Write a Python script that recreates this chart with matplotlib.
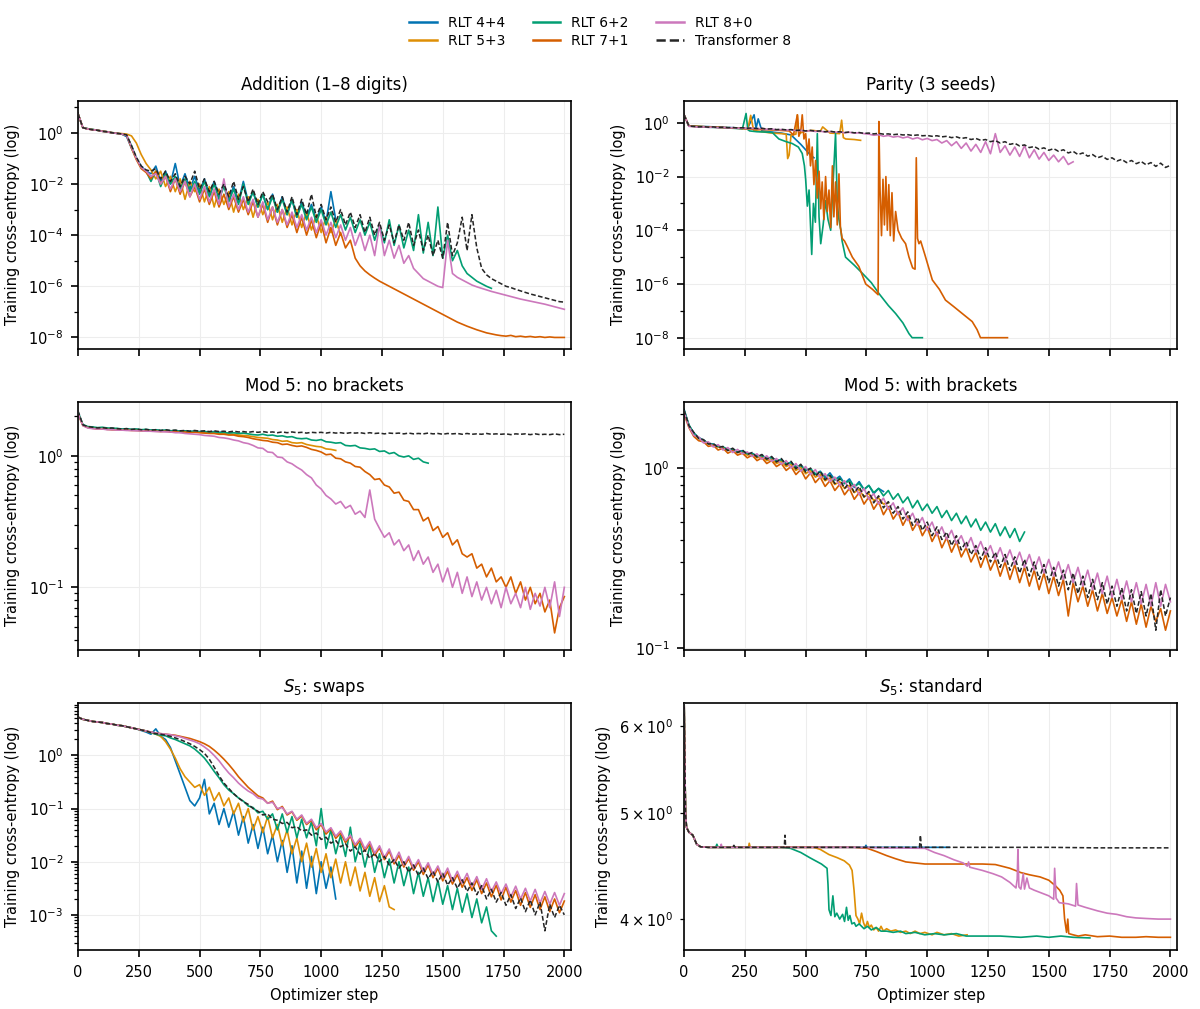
import numpy as np
import matplotlib.pyplot as plt
import matplotlib.ticker as mticker
from matplotlib.lines import Line2D

# optimizer steps for the regularly logged curves (every 20 steps)
steps = np.arange(0, 2001, 20)

labels = ["RLT 4+4", "RLT 5+3", "RLT 6+2", "RLT 7+1", "RLT 8+0", "Transformer 8"]
keys = ["44", "53", "62", "71", "80", "tf"]

# ---- Addition (1-8 digits): log10 of the loss, one value per 20 steps
add_44 = [0.75, 0.2, 0.16, 0.13, 0.1, 0.07, 0.04, 0.01, -0.02, -0.05,
          -0.15, -0.6, -1.0, -1.3, -1.5, -1.6, -1.3, -1.9, -1.5, -2.0,
          -1.2, -2.1, -1.6, -2.2, -1.7, -2.3, -1.8, -2.4, -1.9, -2.5,
          -2.0, -2.6, -2.1, -2.7, -1.9, -2.7, -2.3, -2.9, -2.4, -3.0,
          -2.4, -3.1, -2.5, -3.2, -2.6, -3.3, -2.7, -3.3, -2.8, -3.4,
          -2.9, -3.5, -2.3, -3.4]
add_53 = [0.75, 0.2, 0.16, 0.13, 0.1, 0.07, 0.04, 0.01, -0.02, -0.03,
          -0.05, -0.12, -0.4, -0.85, -1.2, -1.45, -1.8, -1.5, -2.1, -1.7,
          -2.3, -1.8, -2.6, -1.9, -2.3, -2.0, -2.7, -2.1, -2.9, -2.2,
          -2.8, -2.3, -3.1, -2.4, -3.0, -2.5, -3.3, -2.6, -3.2, -2.7,
          -3.4, -2.8, -3.5, -2.9, -3.6, -3.0, -3.7, -3.1, -3.8, -3.2,
          -3.9, -3.3, -3.9, -3.4, -4.0]
add_62 = [0.75, 0.2, 0.16, 0.13, 0.1, 0.06, 0.04, 0.0, -0.02, -0.05,
          -0.1, -0.5, -1.0, -1.35, -1.5, -1.9, -1.5, -2.1, -1.6, -2.0,
          -1.7, -2.2, -1.8, -2.3, -1.9, -2.4, -1.9, -2.5, -2.0, -2.6,
          -2.1, -2.7, -2.2, -2.8, -2.0, -2.8, -2.3, -2.9, -2.4, -3.0,
          -2.5, -3.1, -2.6, -3.2, -2.6, -3.3, -2.8, -3.4, -2.9, -3.5,
          -3.0, -3.6, -3.1, -3.7, -3.2, -3.8, -3.3, -3.9, -3.4, -4.0,
          -3.5, -4.2, -3.6, -4.3, -3.4, -4.4, -3.6, -4.5, -3.8, -4.6,
          -3.2, -4.7, -3.5, -4.8, -2.9, -4.9, -4.0, -5.0, -4.6, -5.2,
          -5.5, -5.65, -5.8, -5.9, -6.0, -6.08]
add_71 = [0.75, 0.2, 0.15, 0.12, 0.1, 0.06, 0.04, 0.0, -0.02, -0.05,
          -0.1, -0.6, -1.05, -1.4, -1.55, -1.8, -1.5, -2.0, -1.7, -2.3,
          -1.8, -2.4, -1.9, -2.5, -2.1, -2.7, -2.2, -2.8, -2.3, -2.9,
          -2.4, -3.0, -2.5, -3.1, -2.6, -3.2, -2.7, -3.3, -2.8, -3.5,
          -2.9, -3.6, -3.0, -3.7, -3.2, -3.9, -3.3, -4.0, -3.4, -4.1,
          -3.5, -4.3, -3.7, -4.4, -3.9, -4.5, -4.2, -4.9, -5.2, -5.4,
          -5.55, -5.68, -5.8, -5.9, -6.0, -6.1, -6.2, -6.3, -6.4, -6.5,
          -6.6, -6.7, -6.8, -6.9, -7.0, -7.1, -7.2, -7.3, -7.4, -7.48,
          -7.56, -7.63, -7.7, -7.76, -7.82, -7.86, -7.9, -7.93, -7.95, -7.92,
          -7.97, -7.95, -7.98, -7.96, -7.99, -7.97, -8.0, -7.98, -8.0, -8.0,
          -8.0]
add_80 = [0.75, 0.2, 0.15, 0.12, 0.1, 0.06, 0.04, 0.0, -0.02, -0.05,
          -0.1, -0.55, -1.0, -1.35, -1.5, -1.7, -1.6, -2.0, -1.7, -2.2,
          -1.8, -2.3, -1.9, -2.5, -2.0, -2.6, -2.1, -2.7, -2.2, -2.8,
          -1.8, -2.9, -2.4, -3.0, -2.5, -3.1, -2.6, -3.3, -2.7, -3.4,
          -2.9, -3.5, -3.0, -3.6, -3.1, -3.7, -3.2, -3.8, -3.3, -3.9,
          -3.4, -4.0, -3.5, -4.1, -3.6, -4.2, -3.7, -4.4, -3.9, -4.6,
          -4.0, -4.8, -3.6, -4.8, -4.2, -4.9, -4.4, -5.1, -4.8, -5.3,
          -5.5, -5.7, -5.8, -5.9, -6.0, -6.05, -4.2, -5.5, -5.65, -5.75,
          -5.85, -5.95, -6.02, -6.08, -6.14, -6.2, -6.25, -6.3, -6.35, -6.4,
          -6.45, -6.5, -6.54, -6.58, -6.62, -6.66, -6.7, -6.75, -6.8, -6.85,
          -6.9]
add_tf = [0.75, 0.2, 0.15, 0.12, 0.1, 0.06, 0.04, 0.0, -0.02, -0.04,
          -0.08, -0.5, -0.95, -1.3, -1.45, -1.5, -1.4, -1.8, -1.5, -1.9,
          -1.6, -2.1, -1.7, -2.0, -1.5, -2.2, -1.8, -2.3, -1.9, -2.4,
          -2.0, -2.5, -1.9, -2.6, -2.1, -2.7, -2.2, -2.8, -2.3, -2.7,
          -2.4, -3.0, -2.5, -3.1, -2.5, -3.2, -2.6, -3.2, -2.4, -3.3,
          -2.8, -3.4, -2.9, -3.5, -3.0, -3.6, -3.1, -3.7, -3.2, -3.9,
          -3.3, -4.0, -3.5, -4.2, -3.6, -4.3, -3.6, -4.2, -3.5, -4.4,
          -3.8, -4.6, -4.0, -4.8, -4.2, -4.9, -3.5, -4.8, -4.3, -3.3,
          -4.6, -3.2, -4.5, -5.3, -5.55, -5.7, -5.8, -5.9, -6.0, -6.05,
          -6.12, -6.18, -6.24, -6.3, -6.35, -6.4, -6.45, -6.5, -6.55, -6.6,
          -6.62]

# ---- Parity (3 seeds): (step, log10 loss) pairs, read at irregular steps
par_44 = [(0, 0.3), (20, -0.12), (100, -0.14), (200, -0.18), (260, -0.22), (288, 0.3),
          (296, -0.2), (305, 0.15), (320, -0.3), (360, -0.34), (400, -0.38), (440, -0.45),
          (480, -0.8), (500, -1.0), (520, -1.2), (534, -1.3)]
par_53 = [(0, 0.3), (20, -0.12), (100, -0.15), (200, -0.19), (262, -0.22), (274, 0.28),
          (286, -0.28), (320, -0.33), (360, -0.38), (400, -0.4), (420, -0.42), (426, -1.33),
          (432, -1.2), (440, -0.45), (460, -0.42), (466, 0.3), (472, -0.4), (500, -0.3),
          (530, -0.28), (560, -0.32), (570, -0.15), (600, -0.38), (640, -0.4), (648, 0.1),
          (655, -0.55), (665, -0.6), (700, -0.62), (726, -0.65)]
par_62 = [(0, 0.3), (20, -0.12), (60, -0.14), (100, -0.16), (150, -0.18), (200, -0.2),
          (240, -0.22), (255, 0.35), (262, -0.25), (270, -0.3), (300, -0.33), (330, -0.34),
          (363, -0.36), (390, -0.6), (420, -0.7), (445, -0.77), (470, -0.9), (486, -1.14),
          (495, -1.6), (500, -2.1), (507, -3.1), (514, -2.5), (525, -4.9), (532, -3.0),
          (540, -3.7), (548, -0.4), (555, -3.5), (562, -4.5), (572, -3.8), (582, -2.9),
          (592, -3.6), (603, -4.0), (613, -2.2), (623, -0.4), (630, -3.0), (637, -3.6),
          (645, -4.0), (650, -4.4), (664, -5.0), (700, -5.3), (733, -5.6), (770, -5.95),
          (801, -6.35), (840, -6.8), (870, -7.1), (900, -7.45), (925, -7.85), (938, -8.0),
          (980, -8.0)]
par_71 = [(0, 0.3), (20, -0.12), (100, -0.15), (200, -0.19), (300, -0.24), (380, -0.27),
          (432, -0.3), (450, -0.45), (466, 0.3), (472, -0.5), (480, -0.3), (486, 0.3),
          (493, -0.6), (500, -0.4), (507, -1.2), (514, -0.6), (520, -1.6), (527, -0.9),
          (534, -2.3), (541, -1.4), (548, -2.8), (555, -1.8), (562, -3.2), (568, -2.2),
          (575, -3.6), (582, -2.0), (589, -3.3), (596, -2.5), (603, -3.9), (610, -1.6),
          (616, -3.5), (623, -2.2), (630, -3.8), (637, -1.9), (643, -3.9), (650, -4.3),
          (660, -4.4), (671, -4.6), (692, -5.0), (719, -5.35), (747, -6.0), (775, -6.2),
          (798, -6.4), (801, 0.05), (806, -2.5), (812, -4.2), (818, -2.1), (824, -3.8),
          (830, -2.0), (836, -4.0), (842, -2.3), (848, -4.2), (855, -2.6), (862, -4.4),
          (870, -3.3), (880, -4.0), (895, -4.3), (911, -4.5), (925, -5.0), (940, -5.4),
          (950, -5.45), (955, -1.3), (960, -4.3), (966, -4.5), (973, -4.4), (990, -4.9),
          (1021, -5.85), (1050, -6.2), (1075, -6.6), (1110, -6.85), (1144, -7.1),
          (1185, -7.4), (1205, -7.7), (1219, -8.0), (1330, -8.0)]
par_80 = [0.3, -0.13, -0.14, -0.16, -0.15, -0.17, -0.16, -0.18, -0.17, -0.19,
          -0.18, -0.2, -0.19, -0.21, -0.2, -0.22, -0.21, -0.24, -0.23, -0.26,
          -0.25, -0.27, -0.26, -0.29, -0.28, -0.31, -0.29, -0.32, -0.31, -0.34,
          -0.32, -0.35, -0.34, -0.37, -0.35, -0.38, -0.37, -0.4, -0.42, -0.46,
          -0.44, -0.5, -0.47, -0.53, -0.5, -0.56, -0.52, -0.6, -0.55, -0.63,
          -0.58, -0.66, -0.62, -0.75, -0.66, -0.85, -0.7, -0.95, -0.75, -1.05,
          -0.8, -1.1, -0.7, -1.15, -0.4, -1.1, -0.85, -1.2, -0.9, -1.25,
          -0.85, -1.3, -1.0, -1.35, -1.1, -1.4, -1.2, -1.45, -1.25, -1.55,
          -1.45]
par_tf = [0.3, -0.12, -0.13, -0.15, -0.14, -0.16, -0.15, -0.17, -0.16, -0.18,
          -0.17, -0.19, -0.18, -0.2, -0.19, -0.21, -0.2, -0.23, -0.22, -0.25,
          -0.24, -0.26, -0.25, -0.28, -0.27, -0.3, -0.28, -0.31, -0.3, -0.33,
          -0.31, -0.34, -0.33, -0.36, -0.34, -0.37, -0.36, -0.39, -0.38, -0.41,
          -0.39, -0.42, -0.41, -0.44, -0.42, -0.45, -0.44, -0.47, -0.45, -0.48,
          -0.47, -0.5, -0.48, -0.52, -0.5, -0.55, -0.52, -0.58, -0.55, -0.62,
          -0.58, -0.65, -0.62, -0.7, -0.66, -0.75, -0.7, -0.8, -0.76, -0.86,
          -0.82, -0.92, -0.88, -0.98, -0.93, -1.02, -0.96, -1.06, -1.0, -1.12,
          -1.06, -1.18, -1.12, -1.24, -1.18, -1.3, -1.24, -1.36, -1.3, -1.42,
          -1.36, -1.48, -1.4, -1.52, -1.44, -1.56, -1.48, -1.62, -1.5, -1.66,
          -1.58]

# ---- Mod 5: no brackets, loss per 20 steps
nb_44 = [2.15, 1.72, 1.66, 1.64, 1.62, 1.63, 1.61, 1.61, 1.6, 1.59,
         1.6, 1.58, 1.59, 1.57, 1.58, 1.56, 1.57, 1.55, 1.56, 1.55,
         1.55, 1.54, 1.55, 1.53, 1.54, 1.53, 1.53, 1.52, 1.53, 1.51,
         1.52]
nb_53 = [2.1, 1.71, 1.65, 1.63, 1.61, 1.61, 1.6, 1.59, 1.59, 1.58,
         1.58, 1.57, 1.57, 1.56, 1.56, 1.55, 1.55, 1.54, 1.55, 1.53,
         1.54, 1.52, 1.53, 1.51, 1.52, 1.51, 1.5, 1.5, 1.49, 1.48,
         1.48, 1.46, 1.46, 1.44, 1.43, 1.42, 1.4, 1.38, 1.37, 1.36,
         1.33, 1.32, 1.29, 1.3, 1.26, 1.25, 1.26, 1.22, 1.2, 1.18,
         1.17, 1.13, 1.12, 1.1]
nb_62 = [2.15, 1.73, 1.67, 1.66, 1.64, 1.65, 1.63, 1.62, 1.62, 1.6,
         1.61, 1.59, 1.6, 1.58, 1.59, 1.57, 1.58, 1.56, 1.57, 1.55,
         1.56, 1.54, 1.55, 1.53, 1.54, 1.52, 1.53, 1.51, 1.52, 1.5,
         1.51, 1.49, 1.5, 1.48, 1.49, 1.47, 1.45, 1.44, 1.46, 1.43,
         1.44, 1.41, 1.42, 1.39, 1.4, 1.36, 1.35, 1.36, 1.32, 1.31,
         1.33, 1.28, 1.27, 1.25, 1.26, 1.2, 1.19, 1.2, 1.15, 1.14,
         1.12, 1.13, 1.08, 1.09, 1.04, 1.06, 1.0, 0.98, 1.0, 0.94,
         0.96, 0.9, 0.88]
nb_71 = [2.1, 1.7, 1.64, 1.62, 1.6, 1.61, 1.59, 1.58, 1.58, 1.57,
         1.57, 1.56, 1.56, 1.55, 1.55, 1.54, 1.54, 1.53, 1.54, 1.52,
         1.53, 1.51, 1.52, 1.5, 1.51, 1.5, 1.49, 1.48, 1.48, 1.46,
         1.46, 1.44, 1.44, 1.41, 1.4, 1.38, 1.35, 1.33, 1.31, 1.3,
         1.27, 1.26, 1.22, 1.23, 1.2, 1.18, 1.19, 1.16, 1.12, 1.1,
         1.07, 1.02, 1.03, 0.96, 0.95, 0.9, 0.88, 0.83, 0.82, 0.76,
         0.72, 0.66, 0.67, 0.6, 0.58, 0.52, 0.53, 0.46, 0.45, 0.39,
         0.39, 0.32, 0.34, 0.27, 0.29, 0.24, 0.26, 0.21, 0.23, 0.18,
         0.17, 0.18, 0.14, 0.15, 0.12, 0.14, 0.11, 0.12, 0.1, 0.12,
         0.09, 0.11, 0.08, 0.1, 0.075, 0.09, 0.065, 0.08, 0.045, 0.07,
         0.085]
nb_80 = [2.1, 1.7, 1.63, 1.61, 1.6, 1.6, 1.58, 1.58, 1.57, 1.57,
         1.56, 1.56, 1.55, 1.55, 1.54, 1.54, 1.53, 1.53, 1.52, 1.52,
         1.5, 1.5, 1.48, 1.47, 1.46, 1.45, 1.43, 1.42, 1.41, 1.38,
         1.37, 1.35, 1.32, 1.3, 1.26, 1.24, 1.2, 1.15, 1.14, 1.07,
         1.06, 0.98, 0.97, 0.9, 0.87, 0.82, 0.78, 0.72, 0.68, 0.6,
         0.56, 0.5, 0.47, 0.43, 0.45, 0.4, 0.42, 0.36, 0.38, 0.34,
         0.55, 0.33, 0.28, 0.24, 0.26, 0.21, 0.23, 0.19, 0.21, 0.16,
         0.19, 0.15, 0.17, 0.13, 0.15, 0.11, 0.14, 0.1, 0.13, 0.09,
         0.12, 0.085, 0.11, 0.08, 0.1, 0.075, 0.095, 0.07, 0.1, 0.075,
         0.09, 0.07, 0.1, 0.068, 0.09, 0.072, 0.1, 0.07, 0.11, 0.06,
         0.1]
nb_tf = [2.2, 1.72, 1.67, 1.65, 1.63, 1.64, 1.62, 1.63, 1.61, 1.6,
         1.61, 1.59, 1.6, 1.58, 1.59, 1.57, 1.58, 1.56, 1.58, 1.56,
         1.57, 1.55, 1.56, 1.54, 1.56, 1.54, 1.55, 1.53, 1.55, 1.53,
         1.54, 1.52, 1.54, 1.52, 1.53, 1.51, 1.53, 1.51, 1.53, 1.51,
         1.52, 1.5, 1.52, 1.5, 1.52, 1.5, 1.51, 1.49, 1.51, 1.5,
         1.51, 1.49, 1.51, 1.49, 1.5, 1.48, 1.5, 1.49, 1.5, 1.48,
         1.5, 1.48, 1.49, 1.47, 1.49, 1.48, 1.49, 1.47, 1.49, 1.47,
         1.48, 1.47, 1.49, 1.47, 1.48, 1.46, 1.48, 1.47, 1.48, 1.46,
         1.48, 1.46, 1.47, 1.46, 1.48, 1.46, 1.47, 1.46, 1.47, 1.45,
         1.47, 1.46, 1.47, 1.45, 1.47, 1.45, 1.46, 1.45, 1.47, 1.45,
         1.46]

# ---- Mod 5: with brackets, loss per 20 steps
wb_44 = [2.12, 1.73, 1.57, 1.48, 1.43, 1.37, 1.36, 1.31, 1.31, 1.26,
         1.28, 1.23, 1.25, 1.2, 1.21, 1.16, 1.18, 1.13, 1.15, 1.09,
         1.12, 1.05, 1.08, 1.0, 1.04, 0.97, 0.99, 0.92, 0.96, 0.88,
         0.94, 0.86, 0.9, 0.82, 0.87, 0.78, 0.84, 0.76, 0.8, 0.72,
         0.77, 0.74]
wb_53 = [2.08, 1.71, 1.55, 1.47, 1.41, 1.37, 1.34, 1.31, 1.29, 1.26,
         1.26, 1.22, 1.22, 1.18, 1.19, 1.14, 1.16, 1.1, 1.12, 1.06,
         1.09, 1.02, 1.05, 0.97, 1.01, 0.93, 0.97, 0.89, 0.92, 0.85,
         0.88, 0.81, 0.84, 0.77, 0.8, 0.73, 0.76, 0.69, 0.72, 0.66,
         0.68, 0.63, 0.64]
wb_62 = [2.1, 1.74, 1.56, 1.47, 1.42, 1.38, 1.35, 1.32, 1.31, 1.27,
         1.27, 1.23, 1.24, 1.2, 1.2, 1.17, 1.17, 1.13, 1.14, 1.1,
         1.11, 1.06, 1.07, 1.02, 1.03, 0.98, 0.99, 0.93, 0.95, 0.9,
         0.91, 0.86, 0.88, 0.82, 0.85, 0.79, 0.82, 0.76, 0.8, 0.73,
         0.77, 0.7, 0.75, 0.67, 0.72, 0.64, 0.69, 0.6, 0.66, 0.58,
         0.63, 0.56, 0.61, 0.53, 0.58, 0.51, 0.56, 0.49, 0.54, 0.47,
         0.52, 0.45, 0.5, 0.44, 0.49, 0.42, 0.47, 0.41, 0.46, 0.39,
         0.44]
wb_71 = [2.0, 1.68, 1.5, 1.42, 1.4, 1.32, 1.34, 1.26, 1.29, 1.21,
         1.25, 1.18, 1.21, 1.14, 1.18, 1.1, 1.14, 1.06, 1.1, 1.02,
         1.06, 0.97, 1.02, 0.92, 0.98, 0.87, 0.94, 0.83, 0.89, 0.79,
         0.85, 0.75, 0.81, 0.71, 0.77, 0.67, 0.73, 0.63, 0.69, 0.59,
         0.65, 0.55, 0.61, 0.52, 0.57, 0.48, 0.54, 0.45, 0.5, 0.42,
         0.47, 0.39, 0.44, 0.36, 0.41, 0.34, 0.39, 0.32, 0.36, 0.3,
         0.34, 0.28, 0.33, 0.27, 0.31, 0.25, 0.3, 0.24, 0.29, 0.23,
         0.28, 0.22, 0.27, 0.21, 0.26, 0.2, 0.25, 0.195, 0.24, 0.15,
         0.23, 0.18, 0.22, 0.17, 0.21, 0.16, 0.2, 0.155, 0.19, 0.15,
         0.185, 0.14, 0.18, 0.135, 0.175, 0.13, 0.17, 0.14, 0.165, 0.125,
         0.16]
wb_80 = [2.05, 1.7, 1.52, 1.49, 1.38, 1.4, 1.31, 1.35, 1.26, 1.3,
         1.22, 1.27, 1.2, 1.23, 1.16, 1.2, 1.12, 1.17, 1.09, 1.13,
         1.05, 1.1, 1.0, 1.06, 0.96, 1.02, 0.92, 0.98, 0.88, 0.93,
         0.84, 0.89, 0.8, 0.85, 0.76, 0.81, 0.71, 0.77, 0.67, 0.72,
         0.63, 0.68, 0.59, 0.64, 0.55, 0.6, 0.51, 0.56, 0.48, 0.53,
         0.45, 0.5, 0.42, 0.47, 0.4, 0.45, 0.38, 0.42, 0.36, 0.41,
         0.34, 0.39, 0.33, 0.37, 0.31, 0.36, 0.3, 0.35, 0.29, 0.34,
         0.28, 0.33, 0.27, 0.32, 0.26, 0.31, 0.25, 0.3, 0.24, 0.29,
         0.23, 0.28, 0.22, 0.27, 0.21, 0.26, 0.2, 0.25, 0.19, 0.24,
         0.185, 0.235, 0.18, 0.23, 0.175, 0.225, 0.17, 0.23, 0.17, 0.225,
         0.18]
wb_tf = [2.1, 1.72, 1.58, 1.46, 1.44, 1.36, 1.37, 1.3, 1.32, 1.25,
         1.29, 1.22, 1.26, 1.19, 1.22, 1.15, 1.19, 1.12, 1.16, 1.08,
         1.13, 1.04, 1.09, 0.99, 1.05, 0.95, 1.0, 0.9, 0.96, 0.86,
         0.91, 0.82, 0.87, 0.77, 0.83, 0.73, 0.79, 0.69, 0.74, 0.64,
         0.7, 0.6, 0.65, 0.56, 0.61, 0.52, 0.57, 0.48, 0.53, 0.45,
         0.5, 0.42, 0.47, 0.4, 0.44, 0.37, 0.42, 0.35, 0.39, 0.33,
         0.37, 0.31, 0.36, 0.3, 0.34, 0.28, 0.33, 0.27, 0.32, 0.26,
         0.31, 0.25, 0.3, 0.24, 0.29, 0.23, 0.28, 0.22, 0.27, 0.21,
         0.26, 0.2, 0.25, 0.19, 0.24, 0.185, 0.23, 0.175, 0.22, 0.17,
         0.215, 0.16, 0.21, 0.155, 0.205, 0.15, 0.2, 0.125, 0.21, 0.15,
         0.19]

# ---- S5: swaps, log10 of the loss per 20 steps
sw_44 = [0.72, 0.68, 0.66, 0.64, 0.63, 0.62, 0.6, 0.59, 0.57, 0.56,
         0.54, 0.52, 0.5, 0.47, 0.44, 0.4, 0.5, 0.36, 0.3, 0.15,
         -0.1, -0.35, -0.6, -0.85, -0.95, -0.8, -0.45, -1.1, -0.9, -1.3,
         -1.0, -1.35, -1.05, -1.5, -1.15, -1.65, -1.3, -1.75, -1.35, -1.85,
         -1.5, -2.0, -1.6, -2.2, -1.7, -2.4, -1.8, -2.5, -1.9, -2.6,
         -2.0, -2.5, -2.1, -2.7]
sw_53 = [0.72, 0.68, 0.66, 0.64, 0.63, 0.62, 0.6, 0.59, 0.57, 0.56,
         0.54, 0.52, 0.5, 0.48, 0.46, 0.43, 0.4, 0.36, 0.26, 0.12,
         -0.05, -0.25, -0.4, -0.5, -0.6, -0.55, -0.75, -0.6, -0.85, -0.7,
         -0.95, -0.8, -1.1, -0.9, -1.25, -1.0, -1.4, -1.15, -1.45, -1.15,
         -1.55, -1.3, -1.7, -1.4, -1.85, -1.55, -2.0, -1.65, -2.1, -1.75,
         -2.2, -1.85, -2.3, -1.95, -2.4, -2.0, -2.45, -2.1, -2.55, -2.2,
         -2.65, -2.3, -2.75, -2.45, -2.85, -2.9]
sw_62 = [0.72, 0.68, 0.66, 0.64, 0.63, 0.62, 0.6, 0.59, 0.57, 0.56,
         0.54, 0.52, 0.5, 0.48, 0.46, 0.43, 0.4, 0.38, 0.37, 0.33,
         0.3, 0.26, 0.22, 0.18, 0.12, 0.04, -0.05, -0.17, -0.3, -0.42,
         -0.55, -0.65, -0.72, -0.8, -0.86, -0.95, -0.98, -1.08, -1.05, -1.2,
         -1.1, -1.4, -1.1, -1.45, -1.15, -1.55, -1.2, -1.55, -1.25, -1.7,
         -1.0, -1.75, -1.4, -1.85, -1.5, -1.9, -1.35, -2.0, -1.65, -2.1,
         -1.7, -2.2, -1.85, -2.3, -1.95, -2.4, -2.0, -2.45, -2.1, -2.6,
         -2.2, -2.65, -2.3, -2.75, -2.35, -2.8, -2.45, -2.9, -2.5, -2.95,
         -2.6, -3.05, -2.7, -3.15, -2.85, -3.3, -3.4]
sw_71 = [0.72, 0.68, 0.66, 0.64, 0.63, 0.62, 0.6, 0.59, 0.57, 0.56,
         0.54, 0.52, 0.5, 0.48, 0.46, 0.44, 0.42, 0.41, 0.4, 0.39,
         0.38, 0.36, 0.34, 0.32, 0.29, 0.26, 0.22, 0.17, 0.1, 0.02,
         -0.07, -0.17, -0.28, -0.4, -0.5, -0.6, -0.68, -0.76, -0.8, -0.9,
         -0.86, -1.02, -0.96, -1.12, -1.06, -1.22, -1.14, -1.3, -1.22, -1.4,
         -1.3, -1.48, -1.38, -1.56, -1.46, -1.64, -1.52, -1.72, -1.6, -1.8,
         -1.66, -1.88, -1.74, -1.96, -1.8, -2.04, -1.88, -2.1, -1.94, -2.16,
         -2.0, -2.24, -2.06, -2.3, -2.12, -2.36, -2.18, -2.42, -2.24, -2.48,
         -2.3, -2.54, -2.34, -2.6, -2.4, -2.66, -2.44, -2.72, -2.48, -2.76,
         -2.54, -2.82, -2.58, -2.86, -2.62, -2.9, -2.66, -2.94, -2.7, -2.96,
         -2.74]
sw_80 = [0.72, 0.68, 0.66, 0.64, 0.63, 0.62, 0.6, 0.59, 0.57, 0.56,
         0.54, 0.52, 0.5, 0.48, 0.46, 0.44, 0.42, 0.41, 0.4, 0.39,
         0.37, 0.35, 0.32, 0.29, 0.26, 0.22, 0.16, 0.09, 0.0, -0.1,
         -0.22, -0.33, -0.42, -0.52, -0.6, -0.67, -0.72, -0.8, -0.82, -0.9,
         -0.88, -1.0, -0.98, -1.1, -1.05, -1.2, -1.12, -1.28, -1.2, -1.36,
         -1.28, -1.44, -1.36, -1.52, -1.42, -1.6, -1.5, -1.68, -1.56, -1.76,
         -1.62, -1.84, -1.7, -1.92, -1.76, -2.0, -1.82, -2.06, -1.9, -2.12,
         -1.96, -2.18, -2.02, -2.24, -2.08, -2.3, -2.12, -2.36, -2.18, -2.4,
         -2.22, -2.46, -2.28, -2.52, -2.32, -2.56, -2.38, -2.6, -2.42, -2.66,
         -2.46, -2.7, -2.5, -2.74, -2.52, -2.78, -2.56, -2.8, -2.58, -2.82,
         -2.6]
sw_tf = [0.72, 0.68, 0.66, 0.64, 0.63, 0.62, 0.6, 0.59, 0.57, 0.56,
         0.54, 0.52, 0.5, 0.48, 0.46, 0.43, 0.41, 0.4, 0.38, 0.36,
         0.33, 0.3, 0.26, 0.22, 0.17, 0.11, 0.04, -0.07, -0.22, -0.38,
         -0.52, -0.62, -0.72, -0.8, -0.87, -0.92, -1.0, -1.05, -1.12, -1.1,
         -1.2, -1.22, -1.28, -1.26, -1.36, -1.34, -1.42, -1.4, -1.5, -1.46,
         -1.58, -1.54, -1.65, -1.6, -1.72, -1.66, -1.8, -1.72, -1.86, -1.78,
         -1.94, -1.84, -2.0, -1.9, -2.06, -1.96, -2.12, -2.0, -2.2, -2.06,
         -2.26, -2.12, -2.32, -2.18, -2.38, -2.22, -2.44, -2.3, -2.5, -2.34,
         -2.56, -2.4, -2.62, -2.45, -2.7, -2.52, -2.76, -2.58, -2.82, -2.62,
         -2.88, -2.68, -2.94, -2.72, -3.0, -2.76, -3.3, -2.8, -3.05, -2.82,
         -3.0]

# ---- S5: standard, (step, loss) pairs
std_head = [(0, 6.4), (3, 5.6), (6, 5.0), (10, 4.85), (20, 4.8), (36, 4.77), (52, 4.68), (68, 4.655)]
std_44 = std_head + [(100, 4.65), (300, 4.65), (500, 4.65), (744, 4.65), (748, 4.67), (752, 4.65),
                     (900, 4.65), (1090, 4.65)]
std_53 = std_head + [(100, 4.65), (200, 4.65), (265, 4.65), (268, 4.69), (272, 4.65), (400, 4.65),
                     (533, 4.65), (560, 4.63), (596, 4.58), (630, 4.55), (659, 4.52), (680, 4.48),
                     (691, 4.43), (699, 4.25), (707, 4.03), (715, 4.0), (722, 3.96), (730, 4.05),
                     (738, 3.97), (746, 3.93), (754, 3.98), (762, 3.93), (770, 3.95), (780, 3.91),
                     (790, 3.93), (800, 3.9), (810, 3.94), (820, 3.9), (833, 3.92), (850, 3.9),
                     (870, 3.91), (890, 3.89), (912, 3.9), (930, 3.88), (950, 3.9), (970, 3.88),
                     (990, 3.89), (1020, 3.87), (1040, 3.89), (1069, 3.87), (1100, 3.88),
                     (1130, 3.86), (1164, 3.87)]
std_62 = std_head + [(100, 4.65), (130, 4.65), (135, 4.68), (140, 4.65), (200, 4.65), (300, 4.65),
                     (400, 4.65), (438, 4.64), (480, 4.6), (517, 4.55), (565, 4.49), (588, 4.45),
                     (592, 4.3), (596, 4.08), (604, 4.03), (612, 4.2), (620, 4.02), (628, 4.05),
                     (640, 4.0), (652, 4.04), (660, 3.98), (668, 4.1), (675, 3.99), (682, 4.03),
                     (690, 3.96), (700, 3.97), (707, 3.94), (720, 3.96), (740, 3.92), (754, 3.94),
                     (770, 3.91), (790, 3.93), (810, 3.9), (833, 3.9), (860, 3.89), (890, 3.9),
                     (912, 3.88), (950, 3.89), (990, 3.87), (1030, 3.88), (1069, 3.87),
                     (1120, 3.88), (1160, 3.86), (1227, 3.86), (1300, 3.86), (1385, 3.85),
                     (1450, 3.86), (1500, 3.85), (1550, 3.86), (1600, 3.85), (1669, 3.845)]
std_71 = std_head + [(100, 4.65), (300, 4.65), (500, 4.65), (600, 4.65), (700, 4.65), (754, 4.64),
                     (790, 4.61), (833, 4.57), (870, 4.54), (912, 4.51), (950, 4.5), (991, 4.49),
                     (1100, 4.49), (1227, 4.49), (1280, 4.485), (1306, 4.47), (1340, 4.45),
                     (1385, 4.41), (1420, 4.39), (1464, 4.37), (1500, 4.34), (1527, 4.29),
                     (1545, 4.25), (1558, 4.2), (1565, 4.0), (1573, 3.89), (1578, 4.0),
                     (1582, 3.88), (1600, 3.87), (1621, 3.86), (1650, 3.87), (1700, 3.855),
                     (1750, 3.86), (1800, 3.85), (1858, 3.85), (1900, 3.855), (1950, 3.85),
                     (2000, 3.85)]
std_80 = std_head + [(100, 4.65), (150, 4.65), (153, 4.68), (156, 4.65), (400, 4.65), (700, 4.65),
                     (991, 4.64), (1030, 4.6), (1069, 4.57), (1110, 4.53), (1148, 4.5),
                     (1165, 4.47), (1170, 4.51), (1175, 4.46), (1227, 4.43), (1270, 4.4),
                     (1306, 4.37), (1340, 4.32), (1365, 4.27), (1370, 4.35), (1373, 4.63),
                     (1377, 4.28), (1385, 4.26), (1395, 4.4), (1400, 4.26), (1410, 4.36),
                     (1420, 4.27), (1440, 4.25), (1464, 4.23), (1500, 4.2), (1520, 4.17),
                     (1524, 4.45), (1530, 4.18), (1543, 4.14), (1580, 4.13), (1610, 4.11),
                     (1614, 4.31), (1620, 4.12), (1650, 4.1), (1700, 4.07), (1740, 4.05),
                     (1779, 4.04), (1820, 4.02), (1858, 4.01), (1900, 4.005), (1950, 4.0),
                     (2000, 4.0)]
std_tf = std_head + [(100, 4.65), (150, 4.65), (200, 4.65), (205, 4.67), (210, 4.65), (300, 4.65),
                     (412, 4.65), (415, 4.77), (418, 4.65), (500, 4.65), (600, 4.65), (700, 4.65),
                     (800, 4.65), (900, 4.65), (968, 4.65), (972, 4.77), (976, 4.65), (1100, 4.65),
                     (1300, 4.65), (1500, 4.65), (1700, 4.645), (1900, 4.645), (2000, 4.645)]

colors = {"44": "#0173b2", "53": "#de8f05", "62": "#029e73",
          "71": "#d55e00", "80": "#cc78bc", "tf": "#262626"}


def on_grid(vals, log):
    y = np.asarray(vals, dtype=float)
    return steps[:len(y)], (10.0 ** y if log else y)


def from_pairs(pairs, log):
    x, y = np.array(pairs, dtype=float).T
    return x, (10.0 ** y if log else y)


# title, series, values stored as log10?, y limits, major ticks every 2 decades?
panels = [
    ("Addition (1–8 digits)",
     {"44": add_44, "53": add_53, "62": add_62, "71": add_71, "80": add_80, "tf": add_tf},
     True, (10 ** -8.44, 10 ** 1.25), True),
    ("Parity (3 seeds)",
     {"44": par_44, "53": par_53, "62": par_62, "71": par_71, "80": par_80, "tf": par_tf},
     True, (10 ** -8.41, 10 ** 0.82), True),
    ("Mod 5: no brackets",
     {"44": nb_44, "53": nb_53, "62": nb_62, "71": nb_71, "80": nb_80, "tf": nb_tf},
     False, (0.0336, 2.58), False),
    ("Mod 5: with brackets",
     {"44": wb_44, "53": wb_53, "62": wb_62, "71": wb_71, "80": wb_80, "tf": wb_tf},
     False, (0.0975, 2.34), False),
    ("$S_5$: swaps",
     {"44": sw_44, "53": sw_53, "62": sw_62, "71": sw_71, "80": sw_80, "tf": sw_tf},
     True, (10 ** -3.67, 10 ** 0.994), False),
    ("$S_5$: standard",
     {"44": std_44, "53": std_53, "62": std_62, "71": std_71, "80": std_80, "tf": std_tf},
     False, (3.745, 6.30), False),
]

fig, axes = plt.subplots(3, 2, figsize=(8, 6.727), sharex='col')
fig.subplots_adjust(left=0.065, right=0.981, bottom=0.058, top=0.9,
                    wspace=0.229, hspace=0.214)

for ax, (title, series, log, ylim, even_decades) in zip(axes.flat, panels):
    for k in keys:
        data = series[k]
        if isinstance(data[0], tuple):
            x, y = from_pairs(data, log)
        else:
            x, y = on_grid(data, log)
        if k == "tf":
            ax.plot(x, y, color=colors[k], lw=0.75, ls="--", dashes=(3, 1.5), zorder=3)
        else:
            ax.plot(x, y, color=colors[k], lw=0.8, zorder=2)
    ax.set_yscale("log")
    if even_decades:
        ax.yaxis.set_major_locator(mticker.FixedLocator([1e-8, 1e-6, 1e-4, 1e-2, 1e0]))
        ax.yaxis.set_minor_locator(mticker.FixedLocator([1e-7, 1e-5, 1e-3, 1e-1, 1e1]))
        ax.yaxis.set_minor_formatter(mticker.NullFormatter())
    ax.set_ylim(*ylim)
    ax.set_xlim(0, 2028)
    ax.set_xticks(np.arange(0, 2001, 250))
    ax.grid(True, which="major", color="0.93", lw=0.5)
    ax.set_axisbelow(True)
    ax.set_title(title, fontsize=8, pad=5)
    ax.set_ylabel("Training cross-entropy (log)", fontsize=7)
    ax.tick_params(which="both", labelsize=7)

for ax in axes[-1]:
    ax.set_xlabel("Optimizer step", fontsize=7)

handles = [Line2D([], [], color=colors[k], lw=1.2, ls="--" if k == "tf" else "-") for k in keys]
fig.legend(handles, labels, loc="center", bbox_to_anchor=(0.5, 0.968), ncol=3,
           frameon=False, fontsize=6.6, handlelength=2.0, columnspacing=2.0,
           labelspacing=0.3)

fig.savefig("out.png", dpi=150)
